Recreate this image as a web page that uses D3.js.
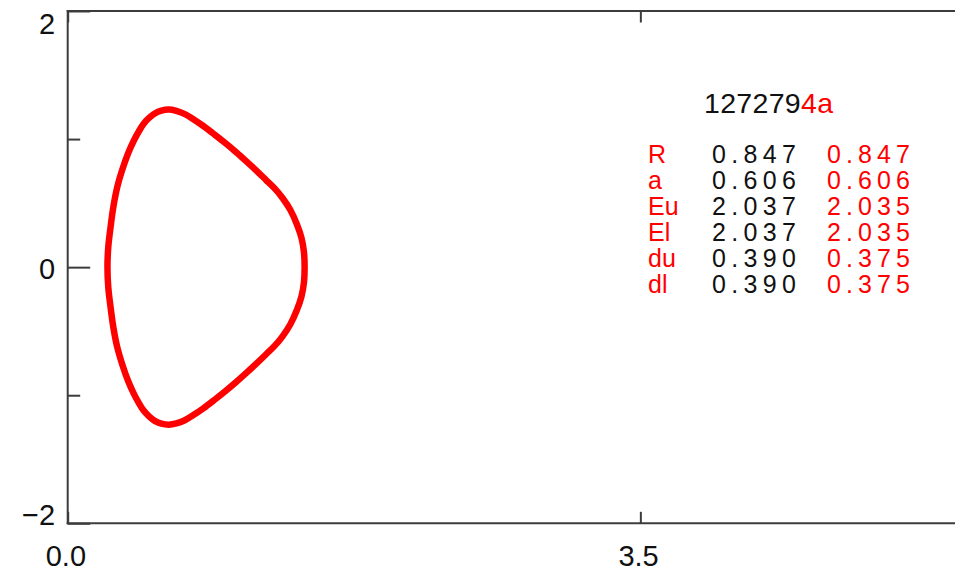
<!DOCTYPE html>
<html>
<head>
<meta charset="utf-8">
<script src="https://cdn.jsdelivr.net/npm/d3@7"></script>
<style>
  html, body { margin: 0; padding: 0; background: #fff; overflow: hidden; }
  svg { display: block; }
  text { font-family: "Liberation Sans", Arial, sans-serif; }
</style>
</head>
<body>
<svg id="chart" width="955" height="573"></svg>
<script>
// ---- data (boundary, counter-clockwise from outer midplane) ----
const boundaryR = [1.448, 1.444, 1.429, 1.400, 1.361, 1.313, 1.266, 1.211, 1.153, 1.092, 1.028, 0.963,
                   0.896, 0.829, 0.768, 0.713, 0.664, 0.618,
                   0.573, 0.532, 0.494, 0.463, 0.436, 0.406, 0.370, 0.335, 0.303, 0.279, 0.262, 0.248, 0.243,
                   0.248, 0.262, 0.279, 0.303, 0.335, 0.370, 0.406, 0.436, 0.463, 0.494, 0.532, 0.573,
                   0.618, 0.664, 0.713, 0.768, 0.829, 0.896, 0.963, 1.028, 1.092, 1.153, 1.211,
                   1.266, 1.313, 1.361, 1.400, 1.429, 1.444];
const boundaryZ = [0.000, 0.118, 0.228, 0.337, 0.446, 0.540, 0.613, 0.682, 0.754, 0.826, 0.899, 0.969,
                   1.037, 1.102, 1.155, 1.197, 1.220, 1.230,
                   1.222, 1.200, 1.161, 1.118, 1.063, 0.993, 0.891, 0.766, 0.626, 0.470, 0.313, 0.157, 0.000,
                   -0.157, -0.313, -0.470, -0.626, -0.766, -0.891, -0.993, -1.063, -1.118, -1.161, -1.200, -1.222,
                   -1.230, -1.220, -1.197, -1.155, -1.102, -1.037, -0.969, -0.899, -0.826, -0.754, -0.682,
                   -0.613, -0.540, -0.446, -0.337, -0.228, -0.118];
const xTicks = [0, 3.5];
const xTickLabels = ["0.0", "3.5"];
const xTicksOffscreen = [7];
const yTicks = [2, 0, -2];
const yTickLabels = ["2", "0", "\u22122"];
const yMinorTicks = [1, -1];
const titleBlack = "127279";
const titleRed = "4a";
const paramNames = ["R", "a", "Eu", "El", "du", "dl"];
const paramValuesA = ["0.847", "0.606", "2.037", "2.037", "0.390", "0.390"];
const paramValuesB = ["0.847", "0.606", "2.035", "2.035", "0.375", "0.375"];

// ---- layout ----
const svg = d3.select("#chart");
const plotLeft = 67.7, plotTop = 11, plotBottom = 523.3;
const x = d3.scaleLinear().domain([0, 7]).range([plotLeft, 1213]);
const y = d3.scaleLinear().domain([-2, 2]).range([plotBottom, plotTop]);
const axisColor = "#3c3c3c";
const red = "#ff0000";

// frame
const frame = svg.append("g").attr("stroke", axisColor).attr("stroke-width", 2).attr("fill", "none");
frame.append("line").attr("x1", x(0)).attr("x2", x(0)).attr("y1", y(2) - 1).attr("y2", y(-2) + 1);
frame.append("line").attr("x1", x(0) - 1).attr("x2", x(7)).attr("y1", y(2)).attr("y2", y(2));
frame.append("line").attr("x1", x(0) - 1).attr("x2", x(7)).attr("y1", y(-2)).attr("y2", y(-2));
frame.append("line").attr("x1", x(7)).attr("x2", x(7)).attr("y1", y(2)).attr("y2", y(-2));

// x axis ticks (bottom + top) via d3 axis
const xMajorLen = 11.5;
const allXTicks = xTicks.concat(xTicksOffscreen);
const xAxisB = d3.axisBottom(x).tickValues(allXTicks).tickSize(-xMajorLen)
  .tickFormat(d => { const i = xTicks.indexOf(d); return i >= 0 ? xTickLabels[i] : ""; });
const gxb = svg.append("g").attr("transform", `translate(0,${plotBottom})`).call(xAxisB);
const xAxisT = d3.axisTop(x).tickValues(allXTicks).tickSize(-xMajorLen).tickFormat("");
const gxt = svg.append("g").attr("transform", `translate(0,${plotTop})`).call(xAxisT);
[gxb, gxt].forEach(g => {
  g.select(".domain").remove();
  g.selectAll(".tick line").attr("stroke", axisColor).attr("stroke-width", 2);
});
gxb.selectAll(".tick text")
  .attr("y", 43).attr("dy", null).attr("dx", "-0.08em")
  .attr("font-size", 29).attr("fill", "#111")
  .attr("font-family", "Liberation Sans, Arial, sans-serif");

// y axis ticks
const yMajorLen = 22.5, yMinorLen = 12.5;
const yAxis = d3.axisLeft(y).tickValues(yTicks).tickSize(-yMajorLen).tickFormat((d, i) => yTickLabels[i]);
const gy = svg.append("g").attr("transform", `translate(${plotLeft},0)`).call(yAxis);
gy.select(".domain").remove();
gy.selectAll(".tick line").attr("stroke", axisColor).attr("stroke-width", 2);
gy.selectAll(".tick text")
  .attr("font-size", 29).attr("fill", "#111")
  .attr("font-family", "Liberation Sans, Arial, sans-serif")
  .attr("x", -12.5)
  .attr("dy", (d) => d === 2 ? "0.76em" : (d === -2 ? "0.05em" : "0.38em"));
const yAxisMinor = d3.axisLeft(y).tickValues(yMinorTicks).tickSize(-yMinorLen).tickFormat("");
const gym = svg.append("g").attr("transform", `translate(${plotLeft},0)`).call(yAxisMinor);
gym.select(".domain").remove();
gym.selectAll(".tick line").attr("stroke", axisColor).attr("stroke-width", 2);

// boundary
const pts = boundaryR.map((r, i) => [r, boundaryZ[i]]);
const line = d3.line().x(d => x(d[0])).y(d => y(d[1])).curve(d3.curveCatmullRomClosed.alpha(0.5));
svg.append("path").attr("d", line(pts))
  .attr("fill", "none").attr("stroke", red).attr("stroke-width", 6.5).attr("stroke-linejoin", "round");

// title
const title = svg.append("text").attr("x", 704).attr("y", 113).attr("font-size", 28.5)
  .attr("textLength", 129).attr("lengthAdjust", "spacing");
title.append("tspan").attr("fill", "#111").text(titleBlack);
title.append("tspan").attr("fill", red).text(titleRed);

// parameter table
const rowY0 = 163, rowStep = 26;
const tbl = svg.append("g").attr("font-size", 25);
paramNames.forEach((n, i) => {
  const yy = rowY0 + i * rowStep;
  tbl.append("text").attr("x", 648).attr("y", yy).attr("fill", red).text(n);
  tbl.append("text").attr("x", 712).attr("y", yy).attr("fill", "#111")
    .attr("textLength", 84).attr("lengthAdjust", "spacing").text(paramValuesA[i]);
  tbl.append("text").attr("x", 827).attr("y", yy).attr("fill", red)
    .attr("textLength", 83).attr("lengthAdjust", "spacing").text(paramValuesB[i]);
});
</script>
</body>
</html>
